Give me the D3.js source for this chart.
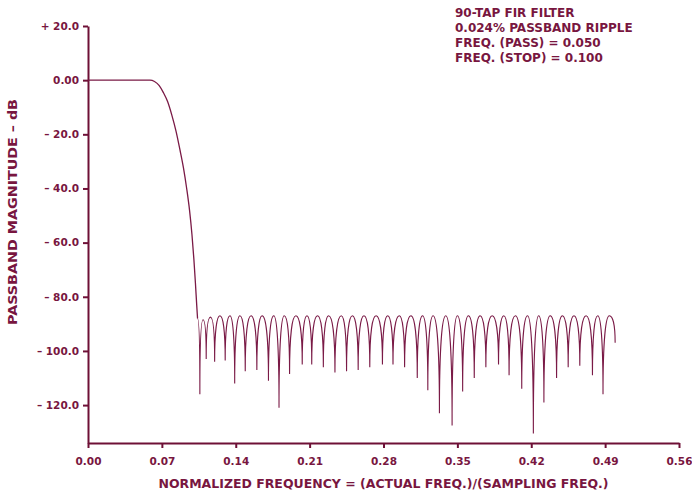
<!DOCTYPE html>
<html>
<head>
<meta charset="utf-8">
<script src="https://cdn.jsdelivr.net/npm/d3@7"></script>
<style>
  body { margin: 0; background: #fff; }
  svg { display: block; font-family: 'DejaVu Sans', sans-serif; }
</style>
</head>
<body>
<div id="chart"></div>
<script>
// ticks
const xTicks = [0, 0.07, 0.14, 0.21, 0.28, 0.35, 0.42, 0.49, 0.56];
const yTicks = [20, 0, -20, -40, -60, -80, -100, -120];
const yTickLabels = ['+ 20.0', '0.00', '\u2013 20.0', '\u2013 40.0', '\u2013 60.0', '\u2013 80.0', '\u2013 100.0', '\u2013 120.0'];

// passband and transition band (normalized freq, dB)
const passFreq = [0, 0.0587, 0.0630, 0.0675, 0.0713, 0.0755, 0.0795, 0.0835, 0.0870, 0.0905, 0.0935, 0.0962, 0.0985, 0.1003, 0.1018, 0.1030, 0.1038];
const passDb = [0, 0, -0.5, -2, -4.5, -8, -13, -19, -25.5, -32.5, -40, -48, -57, -66, -75, -83, -88];

// stopband: nulls between the ripple lobes
const nullFreq = [0.106, 0.112, 0.120, 0.130, 0.139, 0.149, 0.160, 0.171, 0.181, 0.191,
  0.203, 0.212, 0.223, 0.234, 0.245, 0.256, 0.267, 0.279, 0.289, 0.300,
  0.312, 0.322, 0.333, 0.345, 0.355, 0.366, 0.377, 0.389, 0.399, 0.411,
  0.422, 0.432, 0.444, 0.455, 0.466, 0.478, 0.488];
const nullDb = [-116, -103, -104, -103.5, -112, -107.5, -107, -111, -121, -108.5,
  -105, -105, -106, -108, -107.5, -107, -106, -105, -105, -106,
  -110, -114.5, -123, -127.5, -115, -110, -106, -105, -109, -114,
  -130.5, -119, -110, -106, -105.5, -109, -116];

// stopband: top of each ripple lobe
const peakFreq = [0.109, 0.116, 0.125, 0.1345, 0.144, 0.1545, 0.165, 0.176, 0.186, 0.197,
  0.2075, 0.2175, 0.228, 0.240, 0.2505, 0.2615, 0.273, 0.284, 0.295, 0.306,
  0.317, 0.327, 0.339, 0.350, 0.3605, 0.3715, 0.383, 0.394, 0.405, 0.4165,
  0.427, 0.438, 0.4495, 0.4605, 0.472, 0.483, 0.494];
const peakDb = [-88.5, -87.5, -87, -87, -87, -87, -87, -87, -87, -87,
  -87, -87, -87, -87, -87, -87, -87, -87, -87, -87,
  -87, -87, -87, -87, -87, -87, -87, -87, -87, -87,
  -87, -87, -87, -87, -87, -87, -87];

// last plotted point
const endFreq = 0.4995;
const endDb = -97;

const notes = ['90-TAP FIR FILTER', '0.024% PASSBAND RIPPLE', 'FREQ. (PASS) = 0.050', 'FREQ. (STOP) = 0.100'];
const xTitle = 'NORMALIZED FREQUENCY = (ACTUAL FREQ.)/(SAMPLING FREQ.)';
const yTitle = 'PASSBAND MAGNITUDE \u2013 dB';

// settings
const width = 692;
const height = 495;
const margin = { top: 26, right: 13, bottom: 52, left: 88 };
const axisColor = '#6e1036';
const textColor = '#781640';
const lineColor = '#7a1a46';

const svg = d3.select('#chart')
  .append('svg')
  .attr('width', width)
  .attr('height', height);

const x = d3.scaleLinear()
  .domain([0, 0.56])
  .range([margin.left, width - margin.right]);

const y = d3.scaleLinear()
  .domain([-134, 20])
  .range([height - margin.bottom, margin.top]);

// axes
const xAxis = svg.append('g')
  .attr('transform', `translate(0, ${height - margin.bottom})`)
  .call(d3.axisBottom(x).tickValues(xTicks).tickSize(5).tickSizeOuter(0).tickPadding(10).tickFormat(d3.format('.2f')));

const yAxis = svg.append('g')
  .attr('transform', `translate(${margin.left}, 0)`)
  .call(d3.axisLeft(y).tickValues(yTicks).tickSize(5).tickSizeOuter(0).tickPadding(4).tickFormat((d, i) => yTickLabels[i]));

[xAxis, yAxis].forEach(g => {
  g.select('.domain').attr('stroke', axisColor).attr('stroke-width', 2);
  g.selectAll('.tick line').attr('stroke', axisColor).attr('stroke-width', 2);
  g.selectAll('.tick text')
    .attr('fill', textColor)
    .attr('font-family', 'DejaVu Sans')
    .attr('font-weight', 'bold')
    .attr('font-size', 10.5);
});

// passband + transition
const passLine = d3.line()
  .x(d => x(d[0]))
  .y(d => y(d[1]))
  .curve(d3.curveMonotoneX);

svg.append('path')
  .attr('d', passLine(passFreq.map((f, i) => [f, passDb[i]])))
  .attr('fill', 'none')
  .attr('stroke', lineColor)
  .attr('stroke-width', 1.3);

// stopband ripple: rounded lobe tops, steep drops into the nulls
const stopPts = [[passFreq[passFreq.length - 1], passDb[passDb.length - 1]]];
nullFreq.forEach((f, i) => {
  stopPts.push([f, nullDb[i]]);
  stopPts.push([peakFreq[i], peakDb[i]]);
});
stopPts.push([endFreq, endDb]);

function ripplePath (pts) {
  const p = d3.path();
  p.moveTo(x(pts[0][0]), y(pts[0][1]));
  for (let i = 1; i < pts.length; i++) {
    const x0 = x(pts[i - 1][0]);
    const y0 = y(pts[i - 1][1]);
    const x1 = x(pts[i][0]);
    const y1 = y(pts[i][1]);
    if (y1 < y0) {
      // up out of a null
      p.bezierCurveTo(x0, y1 + 0.3 * (y0 - y1), x0 + 0.45 * (x1 - x0), y1, x1, y1);
    } else {
      // down into a null
      p.bezierCurveTo(x1 - 0.45 * (x1 - x0), y0, x1, y0 + 0.3 * (y1 - y0), x1, y1);
    }
  }
  return p.toString();
}

svg.append('path')
  .attr('d', ripplePath(stopPts))
  .attr('fill', 'none')
  .attr('stroke', lineColor)
  .attr('stroke-width', 1.1);

// axis titles
svg.append('text')
  .attr('x', (x(0) + x(0.56)) / 2)
  .attr('y', 488)
  .attr('text-anchor', 'middle')
  .attr('fill', textColor)
  .attr('font-size', 12)
  .attr('font-weight', 'bold')
  .attr('textLength', 450)
  .attr('lengthAdjust', 'spacingAndGlyphs')
  .text(xTitle);

svg.append('text')
  .attr('transform', 'translate(17, 212) rotate(-90)')
  .attr('text-anchor', 'middle')
  .attr('fill', textColor)
  .attr('font-size', 12.5)
  .attr('font-weight', 'bold')
  .attr('textLength', 226)
  .attr('lengthAdjust', 'spacingAndGlyphs')
  .text(yTitle);

// filter notes, top right
const noteBox = svg.append('g')
  .attr('transform', 'translate(455, 0)');
notes.forEach((t, i) => {
  noteBox.append('text')
    .attr('y', 16.5 + i * 15)
    .attr('fill', textColor)
    .attr('font-size', 12)
    .attr('font-weight', 'bold')
    .text(t);
});
</script>
</body>
</html>
